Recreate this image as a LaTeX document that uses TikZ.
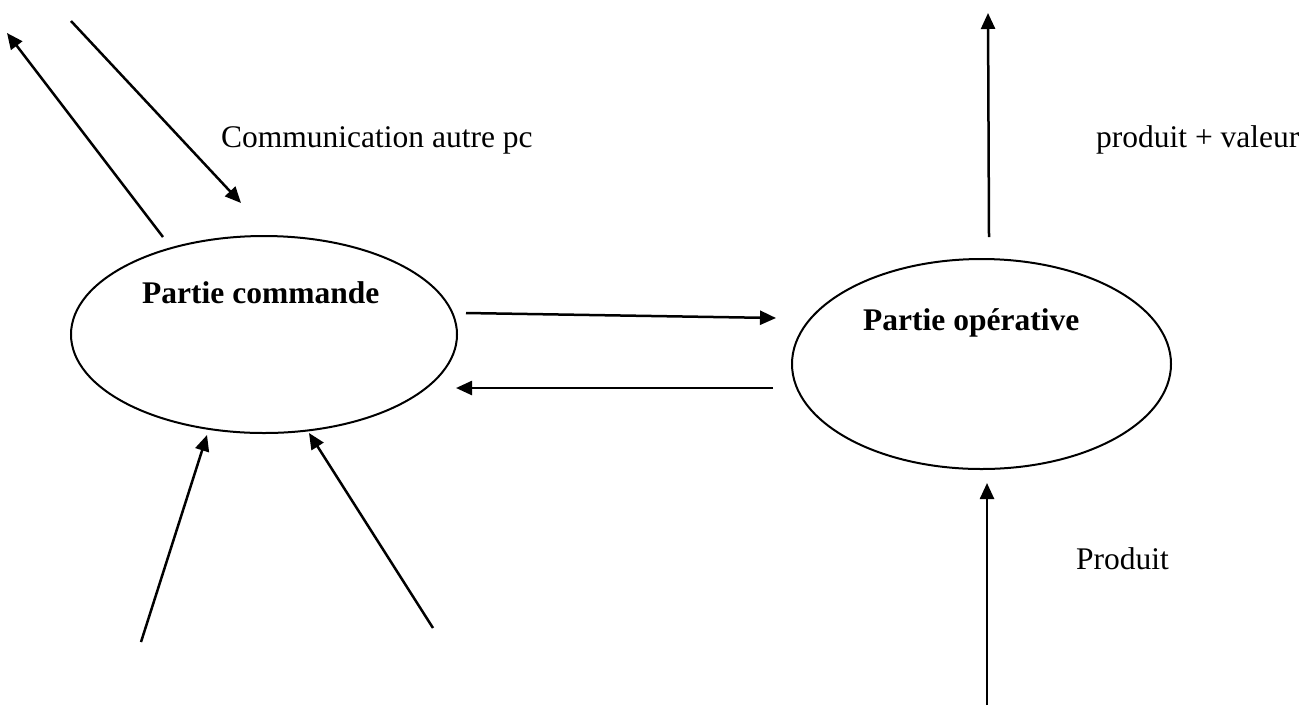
\documentclass[tikz,border=0pt]{standalone}
\usepackage{fontspec}
\setmainfont{Liberation Serif}
\usetikzlibrary{shapes.geometric,arrows.meta}
\begin{document}
\begin{tikzpicture}[x=1pt,y=-1pt,
  part/.style={draw, ellipse, line width=2pt, inner sep=0pt},
  lbl/.style={anchor=base west, inner sep=0pt, font=\fontsize{31.5}{38}\selectfont},
  flow/.style={line width=2.5pt, -{Triangle[length=16pt,width=14pt]}}]
  \useasboundingbox (0,0) rectangle (1313,705);

  % the two parts
  \node[part, minimum width=386pt, minimum height=197pt] (pc) at (264,334.5) {};
  \node[part, minimum width=379pt, minimum height=210pt] (po) at (981.5,364) {};

  % labels
  \node[lbl] (tpc) at (142,303) {\textbf{Partie commande}};
  \node[lbl] (tpo) at (863,330) {\textbf{Partie opérative}};
  \node[lbl] (tcom) at (221,147) {Communication autre pc};
  \node[lbl] (tpv) at (1096,147) {produit + valeur};
  \node[lbl] (tprod) at (1076,569) {Produit};

  % arrow end points
  \coordinate (c1a) at (163,237);  \coordinate (c1b) at (7,33);
  \coordinate (c2a) at (71,21);    \coordinate (c2b) at (241,203);
  \coordinate (c3a) at (466,313);  \coordinate (c3b) at (776,318);
  \coordinate (c4a) at (773,388);  \coordinate (c4b) at (456,388);
  \coordinate (c5a) at (141,642);  \coordinate (c5b) at (207,435);
  \coordinate (c6a) at (433,628);  \coordinate (c6b) at (309,433);
  \coordinate (c7a) at (989,237);  \coordinate (c7b) at (988,13);
  \coordinate (c8a) at (987,705);  \coordinate (c8b) at (987,483);

  % connectors
  \draw[flow] (c1a) -- (c1b);
  \draw[flow] (c2a) -- (c2b);
  \draw[flow] (c3a) -- (c3b);
  \draw[flow] (c4a) -- (c4b);
  \draw[flow] (c5a) -- (c5b);
  \draw[flow] (c6a) -- (c6b);
  \draw[flow] (c7a) -- (c7b);
  \draw[flow] (c8a) -- (c8b);
\end{tikzpicture}
\end{document}
